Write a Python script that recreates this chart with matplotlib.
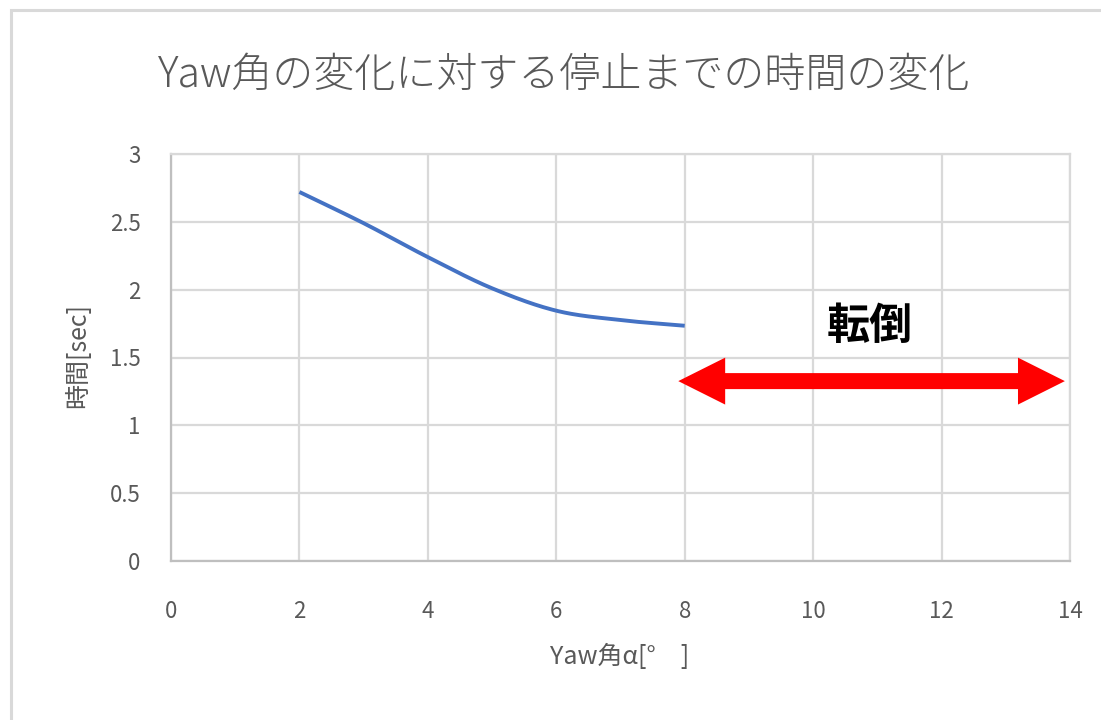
import numpy as np
import matplotlib
matplotlib.use("Agg")
import matplotlib.pyplot as plt
from matplotlib.patches import Polygon, Rectangle

plt.rcParams['font.family'] = ['Noto Sans CJK JP', 'DejaVu Sans']

# Yaw angle [deg] vs. time until stop [sec]
yaw_deg = [2, 3, 4, 5, 6, 7, 8]
stop_time = [2.72, 2.49, 2.24, 2.01, 1.845, 1.776, 1.734]

title = "Yaw角の変化に対する停止までの時間の変化"
xlabel = "Yaw角α[°　]"
ylabel = "時間[sec]"
note = "転倒"
note_range = [7.9, 13.92]   # span of the red arrow (x)
note_level = 1.326          # height of the red arrow (y)

x_ticks = [0, 2, 4, 6, 8, 10, 12, 14]
y_ticks = [0, 0.5, 1, 1.5, 2, 2.5, 3]

TEXT = "#595959"
GRID = "#d9d9d9"
BLUE = "#4472c4"


def smooth(xs, ys, n=30, t=0.5):
    # Catmull-Rom style smoothing similar to a spreadsheet "smoothed line"
    xs = np.asarray(xs, float)
    ys = np.asarray(ys, float)
    px = np.concatenate([[2 * xs[0] - xs[1]], xs, [2 * xs[-1] - xs[-2]]])
    py = np.concatenate([[2 * ys[0] - ys[1]], ys, [2 * ys[-1] - ys[-2]]])
    out_x, out_y = [], []
    for i in range(1, len(px) - 2):
        s = np.linspace(0, 1, n, endpoint=(i == len(px) - 3))
        for a, b in ((px, out_x), (py, out_y)):
            p0, p1, p2, p3 = a[i - 1], a[i], a[i + 1], a[i + 2]
            m1 = t * (p2 - p0)
            m2 = t * (p3 - p1)
            h00 = 2 * s**3 - 3 * s**2 + 1
            h10 = s**3 - 2 * s**2 + s
            h01 = -2 * s**3 + 3 * s**2
            h11 = s**3 - s**2
            b.extend(h00 * p1 + h10 * m1 + h01 * p2 + h11 * m2)
    return np.array(out_x), np.array(out_y)


def double_arrow(x0, x1, y, shaft, head_w, head_l):
    # outline of a horizontal double-headed arrow in data units
    hs, hw = shaft / 2, head_w / 2
    return [(x0, y), (x0 + head_l, y + hw), (x0 + head_l, y + hs),
            (x1 - head_l, y + hs), (x1 - head_l, y + hw), (x1, y),
            (x1 - head_l, y - hw), (x1 - head_l, y - hs),
            (x0 + head_l, y - hs), (x0 + head_l, y - hw)]


fig = plt.figure(figsize=(11.01, 7.2), dpi=100)

# light chart frame (top and left edges visible)
fig.patches.append(Rectangle((11 / 1101, -0.1), 1.2, 1 - 10 / 720 + 0.1,
                             transform=fig.transFigure, fill=False,
                             edgecolor=GRID, lw=2.2))

ax = fig.add_axes([171 / 1101, 1 - 561 / 720, (1070 - 171) / 1101, (561 - 154) / 720])

sx, sy = smooth(yaw_deg, stop_time)
ax.plot(sx, sy, color=BLUE, lw=2.8, solid_capstyle="butt", zorder=3)

ax.set_xlim(0, 14)
ax.set_ylim(0, 3)
ax.set_xticks(x_ticks)
ax.set_yticks(y_ticks)
ax.set_xticklabels([str(v) for v in x_ticks])
ax.set_yticklabels([f"{v:g}" for v in y_ticks])
ax.tick_params(length=0, labelsize=16, labelcolor=TEXT)
ax.tick_params(axis="x", pad=28)
ax.tick_params(axis="y", pad=22)
ax.grid(True, color=GRID, lw=1.6)
ax.set_axisbelow(True)
for side in ("top", "right"):
    ax.spines[side].set_color(GRID)
    ax.spines[side].set_linewidth(1.6)
for side in ("left", "bottom"):
    ax.spines[side].set_color("#bfbfbf")
    ax.spines[side].set_linewidth(1.6)

# red double-headed arrow marking the overturn range
ax.add_patch(Polygon(double_arrow(note_range[0], note_range[1], note_level,
                                  shaft=0.118, head_w=0.346, head_l=0.73),
                     closed=True, facecolor="#ff0000", edgecolor="none",
                     zorder=4))
ax.text(10.88, 1.73, note, fontsize=31, fontweight="bold", color="black",
        ha="center", va="center", zorder=5)

fig.text(564 / 1101, 1 - 75 / 720, title, fontsize=29.5, color=TEXT,
         ha="center", va="center", fontweight="light")
fig.text(620 / 1101, 1 - 657 / 720, xlabel, fontsize=18, color=TEXT,
         ha="center", va="center")
fig.text(78 / 1101, 1 - 355 / 720, ylabel, fontsize=18, color=TEXT,
         ha="center", va="center", rotation=90)

fig.savefig("out.png", dpi=100, facecolor="white")
